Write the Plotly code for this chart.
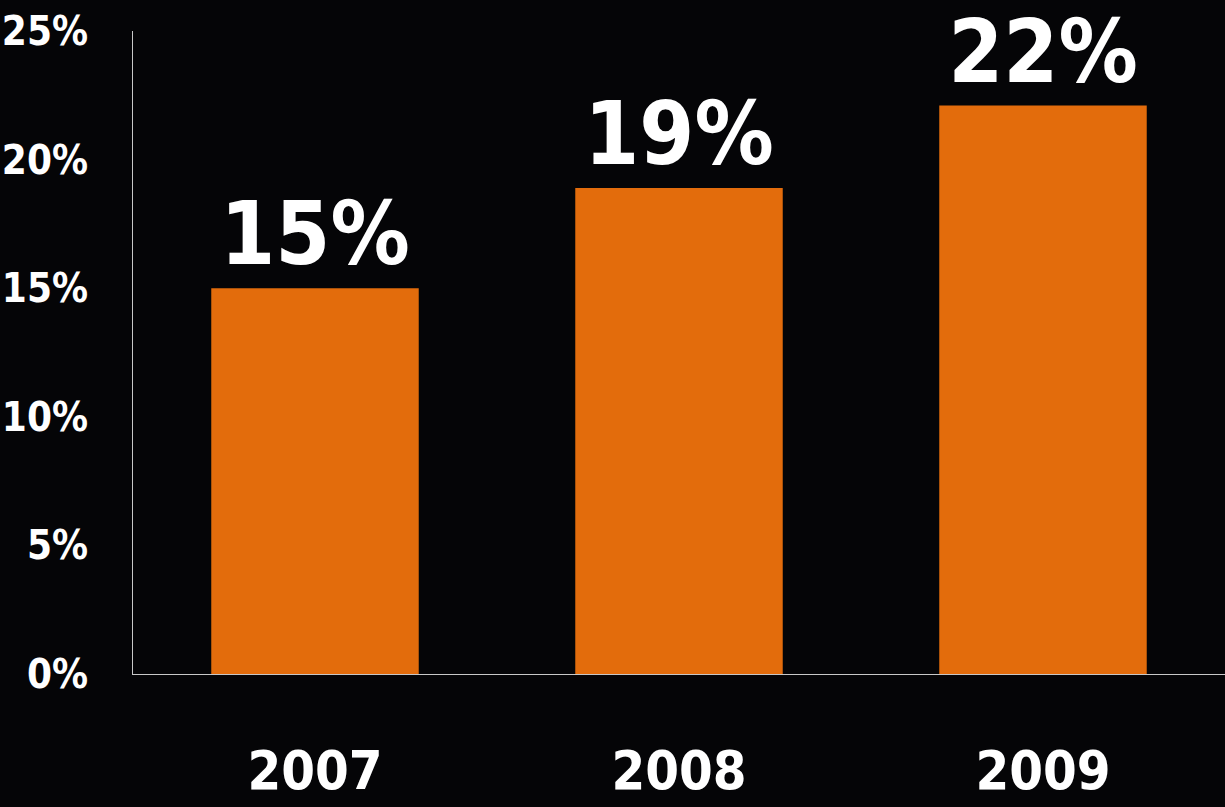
import plotly.graph_objects as go

years = ["2007", "2008", "2009"]
values = [15.0, 18.9, 22.1]
labels = ["15%", "19%", "22%"]
y_ticks = [0, 5, 10, 15, 20, 25]
y_tick_labels = ["0%", "5%", "10%", "15%", "20%", "25%"]

FONT = "DejaVu Sans Condensed, Liberation Sans Narrow, sans-serif"

fig = go.Figure(go.Bar(
    x=years, y=values, text=labels, textposition="outside",
    marker=dict(color="#E36C0C", line=dict(width=0)),
    textfont=dict(family=FONT, size=88, color="white", weight="bold"),
    cliponaxis=False,
))

fig.update_layout(
    width=1225, height=807,
    margin=dict(l=133, r=0, t=31, b=133),
    paper_bgcolor="#050507", plot_bgcolor="#050507",
    bargap=0.43, showlegend=False,
    font=dict(family=FONT, color="white"),
)
fig.update_xaxes(
    showline=True, linecolor="#c8c8c8", linewidth=1, automargin=False,
    showgrid=False, ticks="", ticklabelstandoff=49,
    tickfont=dict(family=FONT, size=54, color="white", weight="bold"),
)
fig.update_yaxes(
    range=[0, 25], tickvals=y_ticks, ticktext=y_tick_labels, automargin=False,
    showline=True, linecolor="#c8c8c8", linewidth=1,
    showgrid=False, zeroline=False, ticks="", ticklabelstandoff=36,
    tickfont=dict(family=FONT, size=40, color="white", weight="bold"),
)

fig.write_html("out.html")
